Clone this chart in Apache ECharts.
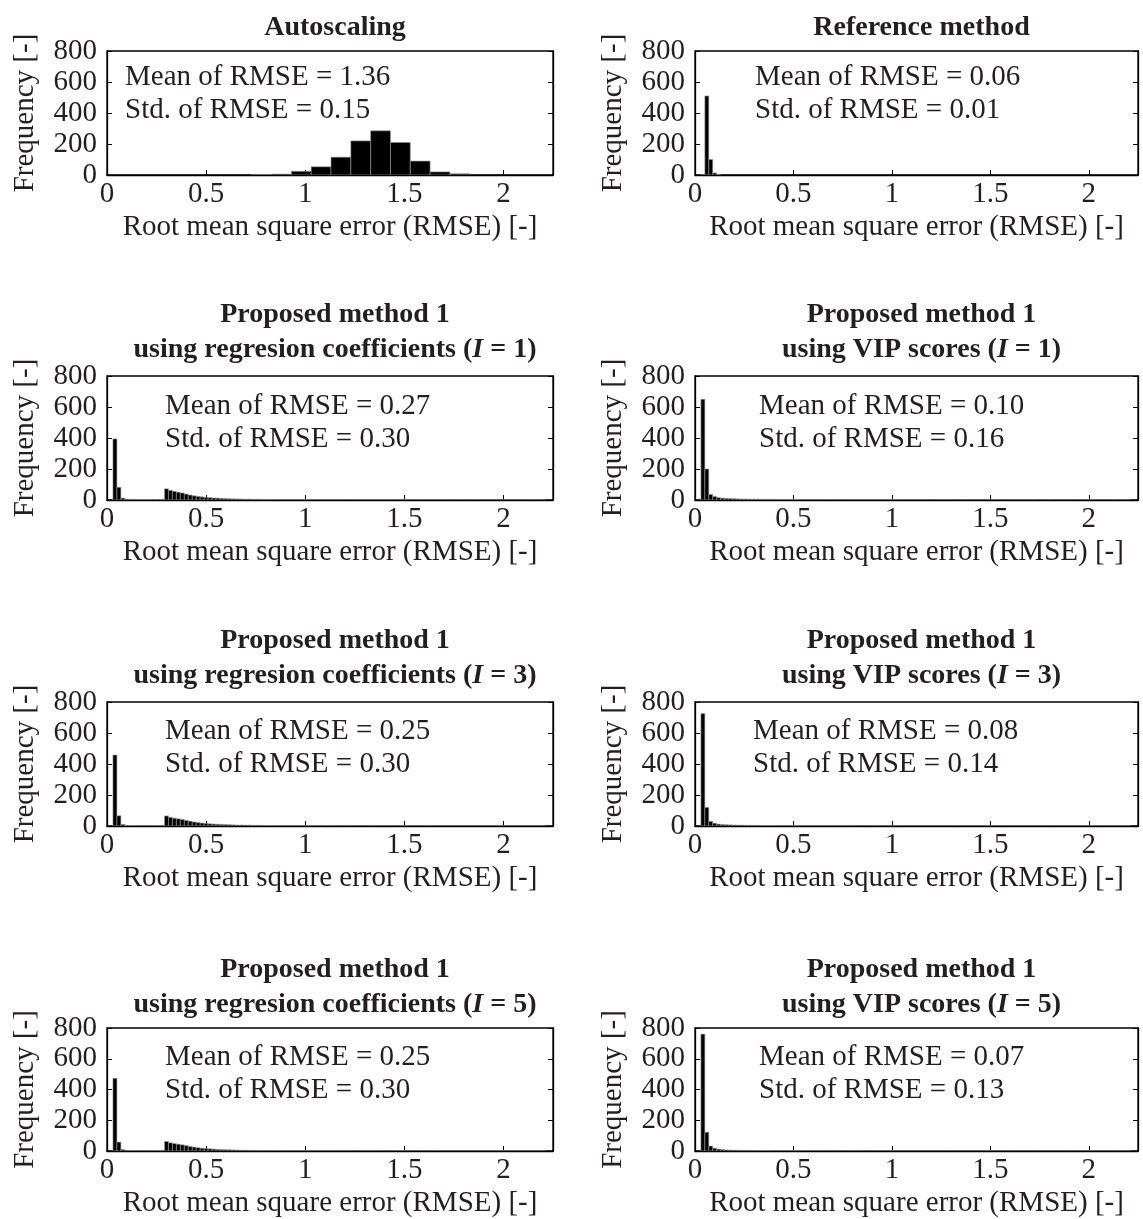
<!DOCTYPE html>
<html>
<head>
<meta charset="utf-8">
<script src="https://cdn.jsdelivr.net/npm/echarts@6/dist/echarts.min.js"></script>
<style>
  html, body { margin: 0; padding: 0; background: #fff; }
  #chart { width: 1143px; height: 1219px; }
</style>
</head>
<body>
<div id="chart"></div>
<script>
// Histogram bins: first edge and width of each bin, per panel kind
const autoBinStart = 0.73;
const autoBinWidth = 0.1;
const fineBinStart = 0.03;
const fineBinWidth = 0.02;

// Frequencies per bin
const autoscaling = [4, 6, 24, 53, 115, 220, 285, 210, 90, 20, 8];

const referenceMethod = [0, 510, 100, 13, 2];

const regCoefI1 = [394, 82, 12, 5, 4, 4, 3, 3, 3, 3, 3, 4, 4,
  72, 62, 56, 50, 45, 38, 32, 27, 23, 20,
  17, 15, 13, 12, 10, 9, 8, 7, 7, 6,
  5, 5, 4, 4, 4, 3, 3, 3, 3, 3,
  3, 2, 3, 2, 2, 3, 2, 2, 2, 2,
  2, 2, 1, 2, 2, 2, 1, 2, 1, 1,
  2, 1, 1, 2, 1, 1, 1, 2, 1, 1,
  1, 1, 1, 1, 2, 1, 1, 1, 1, 1,
  1, 1, 0, 1, 1, 1, 0, 1, 1, 1,
  1, 0, 1, 1, 0, 1, 1, 0, 1, 1,
  0, 1, 1, 0, 1, 0];

const vipI1 = [650, 200, 36, 22, 15, 12, 10, 9, 8, 7, 6, 6, 5,
  5, 5, 4, 4, 4, 4, 3, 3, 3, 3,
  3, 3, 3, 2, 3, 2, 2, 2, 2, 2,
  2, 2, 2, 2, 1, 2, 2, 1, 2, 1,
  2, 1, 1, 2, 1, 1, 1, 2, 1, 1,
  1, 1, 1, 1, 1, 0, 1, 1, 1, 1,
  1, 0, 1, 1, 0, 1, 1, 1, 0, 1,
  0, 1, 1, 0, 1, 0, 1, 1, 0, 1,
  0, 1, 0, 1, 0, 1, 0, 0, 1, 0,
  1, 0, 0, 1, 0, 1, 0, 0, 1, 0,
  0, 1, 0, 0, 1, 0];

const regCoefI3 = [458, 66, 10, 4, 3, 3, 3, 2, 3, 2, 3, 3, 4,
  65, 56, 50, 46, 42, 36, 31, 26, 22, 19,
  16, 14, 12, 11, 10, 9, 8, 7, 6, 6,
  5, 5, 4, 4, 4, 3, 3, 3, 3, 3,
  2, 3, 2, 2, 2, 2, 2, 2, 2, 1,
  2, 2, 1, 2, 1, 2, 1, 1, 2, 1,
  1, 1, 2, 1, 1, 1, 1, 1, 1, 1,
  1, 1, 1, 0, 1, 1, 1, 1, 0, 1,
  1, 0, 1, 1, 0, 1, 0, 1, 1, 0,
  1, 1, 0, 1, 0, 1, 1, 0, 1, 0,
  1, 0, 1, 0, 0, 1];

const vipI3 = [725, 120, 30, 18, 12, 9, 8, 7, 6, 5, 5, 4, 4,
  4, 4, 3, 3, 3, 3, 3, 2, 2, 2,
  2, 2, 2, 2, 2, 1, 2, 2, 1, 2,
  1, 2, 1, 1, 2, 1, 1, 1, 1, 1,
  1, 1, 1, 1, 0, 1, 1, 1, 1, 0,
  1, 1, 0, 1, 1, 0, 1, 1, 0, 1,
  0, 1, 1, 0, 1, 0, 1, 0, 1, 0,
  1, 0, 1, 0, 0, 1, 0, 1, 0, 1,
  0, 0, 1, 0, 1, 0, 0, 1, 0, 0,
  1, 0, 0, 1, 0, 0, 1, 0, 0, 1,
  0, 0, 1, 0, 0, 0];

const regCoefI5 = [473, 58, 9, 4, 3, 3, 2, 3, 2, 3, 3, 3, 4,
  62, 53, 48, 44, 40, 35, 29, 25, 21, 18,
  16, 14, 12, 10, 9, 8, 8, 7, 6, 5,
  5, 4, 4, 4, 3, 3, 3, 3, 3, 2,
  3, 2, 2, 2, 2, 2, 2, 1, 2, 2,
  1, 2, 1, 2, 1, 1, 2, 1, 1, 1,
  1, 2, 1, 1, 1, 1, 0, 1, 1, 1,
  1, 1, 0, 1, 1, 1, 1, 0, 1, 1,
  0, 1, 1, 0, 1, 1, 0, 1, 0, 1,
  1, 0, 1, 0, 1, 1, 0, 1, 0, 1,
  0, 1, 0, 1, 0, 1];

const vipI5 = [760, 122, 32, 18, 12, 9, 7, 6, 5, 5, 4, 4, 4,
  3, 3, 3, 3, 3, 2, 2, 2, 2, 2,
  2, 2, 2, 2, 1, 2, 2, 1, 2, 1,
  1, 2, 1, 1, 1, 1, 2, 1, 1, 1,
  1, 1, 0, 1, 1, 1, 1, 0, 1, 1,
  0, 1, 1, 0, 1, 1, 0, 1, 0, 1,
  1, 0, 1, 0, 1, 0, 1, 0, 0, 1,
  0, 1, 0, 1, 0, 0, 1, 0, 1, 0,
  0, 1, 0, 0, 1, 0, 1, 0, 0, 1,
  0, 0, 1, 0, 0, 1, 0, 0, 1, 0,
  0, 1, 0, 0, 0, 1];

// Panel titles (rich-text tag {it|...} marks the italic symbol)
const panelTitles = [
  'Autoscaling',
  'Reference method',
  'Proposed method 1\nusing regresion coefficients ({it|I} = 1)',
  'Proposed method 1\nusing VIP scores ({it|I} = 1)',
  'Proposed method 1\nusing regresion coefficients ({it|I} = 3)',
  'Proposed method 1\nusing VIP scores ({it|I} = 3)',
  'Proposed method 1\nusing regresion coefficients ({it|I} = 5)',
  'Proposed method 1\nusing VIP scores ({it|I} = 5)'
];
const meanRmse = ['1.36', '0.06', '0.27', '0.10', '0.25', '0.08', '0.25', '0.07'];
const stdRmse  = ['0.15', '0.01', '0.30', '0.16', '0.30', '0.14', '0.30', '0.13'];

const xTicks = [0, 0.5, 1, 1.5, 2];
const yTicks = [0, 200, 400, 600, 800];
const xLabel = 'Root mean square error (RMSE) [-]';
const yLabel = 'Frequency [-]';

// ---- layout ----
const FONT = '"Liberation Serif", "Times New Roman", serif';
const INK = '#231f20';
const FS = 29;
const colLeft = [107, 695];
const colWidth = [446, 443];
const rowTop = [51, 376, 702, 1028];
const plotH = 124;
const titleTop = [5, 292, 618, 947];
const notePos = [
  [125, 77], [755, 77],
  [165, 406], [759, 406],
  [165, 731], [753, 731],
  [165, 1057], [759, 1057]
];

const panels = [
  { counts: autoscaling, start: autoBinStart, width: autoBinWidth },
  { counts: referenceMethod, start: fineBinStart, width: fineBinWidth },
  { counts: regCoefI1, start: fineBinStart, width: fineBinWidth },
  { counts: vipI1, start: fineBinStart, width: fineBinWidth },
  { counts: regCoefI3, start: fineBinStart, width: fineBinWidth },
  { counts: vipI3, start: fineBinStart, width: fineBinWidth },
  { counts: regCoefI5, start: fineBinStart, width: fineBinWidth },
  { counts: vipI5, start: fineBinStart, width: fineBinWidth }
];

const grids = [], xAxes = [], yAxes = [], series = [], titles = [], graphics = [];

panels.forEach((p, i) => {
  const col = i % 2, row = Math.floor(i / 2);
  grids.push({
    left: colLeft[col], top: rowTop[row], width: colWidth[col], height: plotH,
    show: true, borderColor: '#000', borderWidth: 1.3, backgroundColor: '#fff'
  });
  xAxes.push({
    gridIndex: i, type: 'value', min: xTicks[0], max: 2.25, interval: 0.5,
    axisLine: { onZero: false, lineStyle: { color: '#000', width: 1.3 } },
    axisTick: { inside: true, length: 5, lineStyle: { color: '#000', width: 1 } },
    axisLabel: {
      margin: 5, fontSize: FS, fontFamily: FONT, color: INK,
      formatter: v => (xTicks.some(t => Math.abs(t - v) < 1e-9) ? String(v) : '')
    },
    splitLine: { show: false },
    name: xLabel, nameLocation: 'middle', nameGap: 38,
    nameTextStyle: { fontSize: FS, fontFamily: FONT, color: INK }
  });
  yAxes.push({
    gridIndex: i, type: 'value', min: yTicks[0], max: yTicks[yTicks.length - 1], interval: 200,
    axisLine: { show: true, lineStyle: { color: '#000', width: 1.3 } },
    axisTick: { inside: true, length: 5, lineStyle: { color: '#000', width: 1 } },
    axisLabel: { margin: 10, fontSize: FS, fontFamily: FONT, color: INK, lineHeight: 28 },
    splitLine: { show: false },
    name: yLabel, nameLocation: 'middle', nameGap: 67,
    nameTextStyle: { fontSize: FS, fontFamily: FONT, color: INK }
  });
  // right-hand frame side with inward ticks
  yAxes.push({
    gridIndex: i, type: 'value', position: 'right', min: 0, max: 800, interval: 200,
    axisLine: { show: true, lineStyle: { color: '#000', width: 1.3 } },
    axisTick: { inside: true, length: 5, lineStyle: { color: '#000', width: 1 } },
    axisLabel: { show: false }, splitLine: { show: false }
  });

  const data = p.counts.map((c, k) => [p.start + k * p.width, p.start + (k + 1) * p.width, c]);
  series.push({
    type: 'custom', xAxisIndex: i, yAxisIndex: 2 * i, clip: true,
    encode: { x: [0, 1], y: 2 },
    data: data,
    renderItem: (params, api) => {
      const a = api.coord([api.value(0), api.value(2)]);
      const b = api.coord([api.value(1), 0]);
      return {
        type: 'rect',
        shape: { x: a[0], y: a[1], width: b[0] - a[0], height: b[1] - a[1] },
        style: { fill: '#000', stroke: '#9a9a9a', lineWidth: 0.6 }
      };
    }
  });

  titles.push({
    text: panelTitles[i],
    left: colLeft[col] + colWidth[col] / 2, top: titleTop[row], textAlign: 'center',
    textStyle: {
      fontSize: 28, fontWeight: 'bold', fontFamily: FONT, color: INK, lineHeight: 35,
      rich: {
        it: { fontSize: 28, fontWeight: 'bold', fontStyle: 'italic', fontFamily: FONT, color: INK, lineHeight: 35 }
      }
    }
  });

  graphics.push({
    type: 'text', x: notePos[i][0], y: notePos[i][1],
    style: { text: 'Mean of RMSE = ' + meanRmse[i], fontSize: FS, fontFamily: FONT, fill: INK, verticalAlign: 'middle' }
  });
  graphics.push({
    type: 'text', x: notePos[i][0], y: notePos[i][1] + 33,
    style: { text: 'Std. of RMSE = ' + stdRmse[i], fontSize: FS, fontFamily: FONT, fill: INK, verticalAlign: 'middle' }
  });
});

const chart = echarts.init(document.getElementById('chart'), null, { renderer: 'canvas' });
chart.setOption({
  backgroundColor: '#fff',
  animation: false,
  title: titles,
  grid: grids,
  xAxis: xAxes,
  yAxis: yAxes,
  series: series,
  graphic: graphics
});
</script>
</body>
</html>
